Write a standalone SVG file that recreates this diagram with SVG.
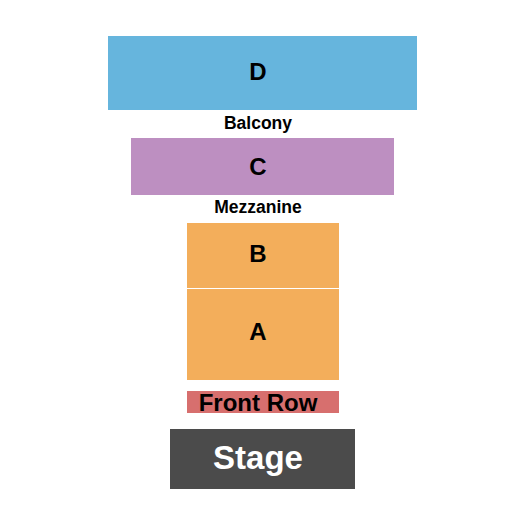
<svg xmlns="http://www.w3.org/2000/svg" width="525" height="525" viewBox="0 0 525 525">
<style>
text{font-family:"Liberation Sans",Arial,sans-serif;font-weight:bold;text-anchor:middle;fill:#000}
.sec{font-size:24px}
.lbl{font-size:17.5px}
</style>
<rect width="525" height="525" fill="#fff"/>
<g id="D"><rect x="108" y="36" width="309" height="74" fill="#66b5dd"/><text class="sec" x="258" y="80">D</text></g>
<g id="balcony"><text class="lbl" x="258" y="129">Balcony</text></g>
<g id="C"><rect x="131" y="138" width="263" height="57" fill="#bd8fc1"/><text class="sec" x="258" y="175">C</text></g>
<g id="mezzanine"><text class="lbl" x="258" y="213">Mezzanine</text></g>
<g id="B"><rect x="187" y="223" width="152" height="65" fill="#f3ae5b"/><text class="sec" x="258" y="262">B</text></g>
<g id="A"><rect x="187" y="289" width="152" height="91" fill="#f3ae5b"/><text class="sec" x="258" y="340">A</text></g>
<g id="front-row"><rect x="187" y="391" width="152" height="22" fill="#d76f6e"/><text x="258" y="411" style="font-size:24px">Front Row</text></g>
<g id="stage"><rect x="170" y="429" width="185" height="60" fill="#4b4b4b"/><text x="258" y="469" style="font-size:33px;fill:#fff">Stage</text></g>
<g id="connectors"/>
</svg>
